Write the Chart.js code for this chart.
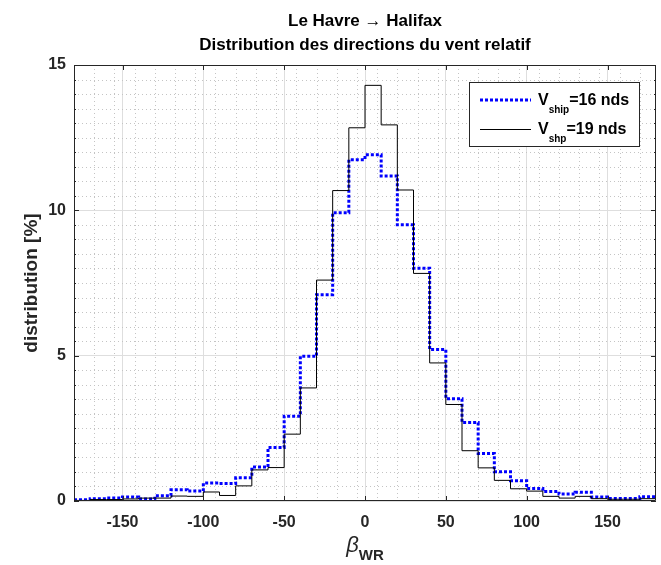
<!DOCTYPE html>
<html lang="fr">
<head>
<meta charset="utf-8">
<title>Le Havre → Halifax</title>
<script src="https://cdn.jsdelivr.net/npm/chart.js@4.4.1/dist/chart.umd.min.js"></script>
<style>
    html, body { margin: 0; padding: 0; background: #fff; }
    #wrap { position: relative; width: 661px; height: 565px; }
</style>
</head>
<body>
<div id="wrap"><canvas id="windChart"></canvas></div>
<script>
// Bords des classes de direction du vent relatif (degrés)
const binEdges = [-180, -170, -160, -150, -140, -130, -120, -110, -100, -90,
                  -80, -70, -60, -50, -40, -30, -20, -10, 0, 10,
                  20, 30, 40, 50, 60, 70, 80, 90, 100, 110,
                  120, 130, 140, 150, 160, 170, 180];

// Distribution [%] par classe - V_ship = 16 nds
const dist16 = [0.04, 0.08, 0.10, 0.14, 0.07, 0.18, 0.39, 0.34, 0.62, 0.60,
                0.80, 1.17, 1.84, 2.92, 4.98, 7.10, 9.92, 11.74, 11.91, 11.18,
                9.50, 8.01, 5.21, 3.52, 2.70, 1.63, 1.01, 0.70, 0.43, 0.33,
                0.24, 0.30, 0.14, 0.09, 0.09, 0.15];

// Distribution [%] par classe - V_ship = 19 nds
const dist19 = [0.02, 0.05, 0.05, 0.07, 0.10, 0.10, 0.17, 0.16, 0.31, 0.19,
                0.52, 1.07, 1.15, 2.30, 3.89, 7.60, 10.68, 12.84, 14.30, 12.94,
                10.70, 7.83, 4.75, 3.32, 1.73, 1.14, 0.71, 0.42, 0.34, 0.16,
                0.10, 0.16, 0.08, 0.06, 0.06, 0.08];

const xTicks = [-150, -100, -50, 0, 50, 100, 150];
const yTicks = [0, 5, 10, 15];
const xMinorStep = 12.5;
const yMinorStep = 0.5;

const titleLines = ['Le Havre \u2192 Halifax', 'Distribution des directions du vent relatif'];
const yLabel = 'distribution [%]';
const legendItems = [
    { main: 'V', sub: 'ship', rest: '=16 nds' },
    { main: 'V', sub: 'shp', rest: '=19 nds' }
];

const FONT = '"Liberation Sans", Arial, Helvetica, sans-serif';
const AXIS_COLOR = '#262626';

// Escalier : chaque classe tenue de son bord gauche au bord suivant
function toStairs(values) {
    return binEdges.map((x, i) => ({ x: x, y: values[Math.min(i, values.length - 1)] }));
}

// Grille secondaire, cadre, ticks intérieurs, titres et légende façon MATLAB
const matlabAxes = {
    id: 'matlabAxes',
    beforeDatasetsDraw(chart) {
        const { ctx, chartArea: a, scales: { x, y } } = chart;
        ctx.save();
        ctx.strokeStyle = '#c4c4c4';
        ctx.lineWidth = 1;
        ctx.setLineDash([1, 3]);
        ctx.beginPath();
        for (let v = x.min; v <= x.max; v += xMinorStep) {
            if (xTicks.includes(v)) continue;
            const px = Math.round(x.getPixelForValue(v)) + 0.5;
            ctx.moveTo(px, a.top);
            ctx.lineTo(px, a.bottom);
        }
        for (let v = y.min; v <= y.max; v += yMinorStep) {
            if (yTicks.includes(v)) continue;
            const py = Math.round(y.getPixelForValue(v)) + 0.5;
            ctx.moveTo(a.left, py);
            ctx.lineTo(a.right, py);
        }
        ctx.stroke();
        ctx.restore();
    },
    afterDatasetsDraw(chart) {
        const { ctx, chartArea: a, scales: { x, y } } = chart;
        ctx.save();
        ctx.strokeStyle = AXIS_COLOR;
        ctx.lineWidth = 1;
        ctx.beginPath();
        ctx.rect(Math.round(a.left) + 0.5, Math.round(a.top) + 0.5,
                 Math.round(a.right - a.left) - 1, Math.round(a.bottom - a.top) - 1);
        // ticks majeurs en x (bas et haut)
        xTicks.forEach(v => {
            const px = Math.round(x.getPixelForValue(v)) + 0.5;
            ctx.moveTo(px, a.bottom); ctx.lineTo(px, a.bottom - 5);
            ctx.moveTo(px, a.top); ctx.lineTo(px, a.top + 5);
        });
        // ticks en y (gauche et droite), mineurs plus courts
        for (let v = y.min; v <= y.max; v += yMinorStep) {
            const len = yTicks.includes(v) ? 5 : 2;
            const py = Math.round(y.getPixelForValue(v)) + 0.5;
            ctx.moveTo(a.left, py); ctx.lineTo(a.left + len, py);
            ctx.moveTo(a.right, py); ctx.lineTo(a.right - len, py);
        }
        ctx.stroke();
        ctx.restore();
    },
    afterDraw(chart) {
        const { ctx, chartArea: a } = chart;
        const cx = (a.left + a.right) / 2;
        ctx.save();

        // Titre
        ctx.fillStyle = '#000';
        ctx.textAlign = 'center';
        ctx.textBaseline = 'middle';
        ctx.font = 'bold 17px ' + FONT;
        ctx.fillText(titleLines[0], cx, 21);
        ctx.fillText(titleLines[1], cx, 45);

        // Label y
        ctx.save();
        ctx.translate(32, (a.top + a.bottom) / 2);
        ctx.rotate(-Math.PI / 2);
        ctx.fillStyle = AXIS_COLOR;
        ctx.font = 'bold 19px ' + FONT;
        ctx.fillText(yLabel, 0, 0);
        ctx.restore();

        // Label x : beta indice WR
        ctx.fillStyle = AXIS_COLOR;
        ctx.textAlign = 'left';
        ctx.textBaseline = 'alphabetic';
        ctx.font = 'italic 22px ' + FONT;
        const wBeta = ctx.measureText('\u03B2').width;
        ctx.font = 'bold 15px ' + FONT;
        const wSub = ctx.measureText('WR').width;
        const x0 = cx - (wBeta + wSub) / 2;
        ctx.font = 'italic 22px ' + FONT;
        ctx.fillText('\u03B2', x0, 552);
        ctx.font = 'bold 15px ' + FONT;
        ctx.fillText('WR', x0 + wBeta, 560);

        // Légende
        const bx = Math.round(a.right) - 187, by = Math.round(a.top) + 17, bw = 170, bh = 64;
        ctx.fillStyle = '#fff';
        ctx.fillRect(bx, by, bw, bh);
        ctx.strokeStyle = AXIS_COLOR;
        ctx.lineWidth = 1;
        ctx.strokeRect(bx + 0.5, by + 0.5, bw, bh);
        chart.data.datasets.forEach((ds, i) => {
            const ly = by + 18 + i * 29;
            ctx.save();
            ctx.strokeStyle = ds.borderColor;
            ctx.lineWidth = ds.borderWidth;
            ctx.setLineDash(ds.borderDash || []);
            ctx.beginPath();
            ctx.moveTo(bx + 11, ly + (ds.borderWidth === 1 ? 0.5 : 0));
            ctx.lineTo(bx + 62, ly + (ds.borderWidth === 1 ? 0.5 : 0));
            ctx.stroke();
            ctx.restore();
            const it = legendItems[i];
            let tx = bx + 69;
            ctx.fillStyle = '#000';
            ctx.textBaseline = 'alphabetic';
            ctx.font = 'bold 16px ' + FONT;
            ctx.fillText(it.main, tx, ly + 5);
            tx += ctx.measureText(it.main).width;
            ctx.font = 'bold 10px ' + FONT;
            ctx.fillText(it.sub, tx, ly + 13);
            tx += ctx.measureText(it.sub).width;
            ctx.font = 'bold 16px ' + FONT;
            ctx.fillText(it.rest, tx, ly + 5);
        });
        ctx.restore();
    }
};

const ctx = document.getElementById('windChart').getContext('2d');
new Chart(ctx, {
    type: 'line',
    data: {
        datasets: [
            {
                label: 'V_ship=16 nds',
                data: toStairs(dist16),
                stepped: 'before',
                borderColor: '#0000ff',
                borderWidth: 3,
                borderDash: [3, 2],
                pointRadius: 0,
                fill: false,
                order: 2
            },
            {
                label: 'V_shp=19 nds',
                data: toStairs(dist19),
                stepped: 'before',
                borderColor: '#000000',
                borderWidth: 1,
                pointRadius: 0,
                fill: false,
                order: 1
            }
        ]
    },
    options: {
        responsive: true,
        maintainAspectRatio: false,
        animation: false,
        layout: { padding: { top: 65, right: 5, left: 0, bottom: 0 } },
        plugins: {
            legend: { display: false },
            title: { display: false },
            tooltip: { enabled: false }
        },
        scales: {
            x: {
                type: 'linear',
                min: -180,
                max: 180,
                afterBuildTicks: s => { s.ticks = xTicks.map(v => ({ value: v })); },
                afterFit: s => { s.height = 64; },
                grid: { color: '#dedede', drawTicks: false },
                border: { display: false },
                ticks: {
                    padding: 12,
                    color: AXIS_COLOR,
                    maxRotation: 0,
                    autoSkip: false,
                    font: { family: FONT, size: 16, weight: 'bold' }
                }
            },
            y: {
                type: 'linear',
                min: 0,
                max: 15,
                afterBuildTicks: s => { s.ticks = yTicks.map(v => ({ value: v })); },
                afterFit: s => { s.width = 74; },
                grid: { color: '#dedede', drawTicks: false },
                border: { display: false },
                ticks: {
                    padding: 8,
                    color: AXIS_COLOR,
                    font: { family: FONT, size: 16, weight: 'bold' }
                }
            }
        }
    },
    plugins: [matlabAxes]
});
</script>
</body>
</html>
